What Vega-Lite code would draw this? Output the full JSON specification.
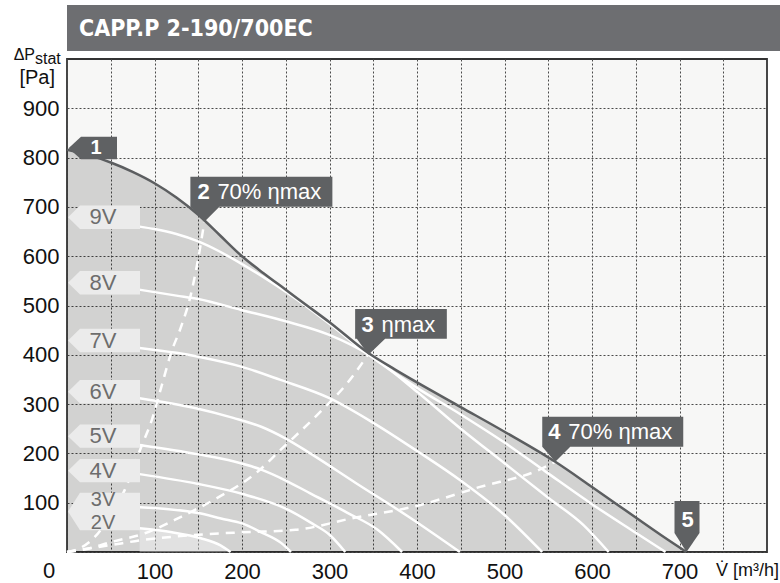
{
  "$schema": "https://vega.github.io/schema/vega-lite/v6.json",
  "padding": {"left": 12, "top": 5, "right": 0, "bottom": 0},
  "background": "white",
  "bounds": "flush",
  "spacing": 8,
  "config": {"font": "Liberation Sans"},
  "datasets": {
    "max": [
      {"x": 0, "y": 816}, {"x": 25, "y": 805}, {"x": 50, "y": 790}, {"x": 75, "y": 771},
      {"x": 100, "y": 748}, {"x": 125, "y": 719}, {"x": 150, "y": 684}, {"x": 175, "y": 642},
      {"x": 200, "y": 600}, {"x": 225, "y": 565}, {"x": 250, "y": 532}, {"x": 275, "y": 499},
      {"x": 300, "y": 466}, {"x": 344, "y": 404}, {"x": 375, "y": 370}, {"x": 400, "y": 344},
      {"x": 450, "y": 294}, {"x": 500, "y": 244}, {"x": 558, "y": 183}, {"x": 600, "y": 132},
      {"x": 650, "y": 70}, {"x": 680, "y": 33}, {"x": 708, "y": 0}
    ],
    "volt": [
      {"v": "9V", "x": 83, "y": 660}, {"v": "9V", "x": 100, "y": 655}, {"v": "9V", "x": 125, "y": 645},
      {"v": "9V", "x": 150, "y": 630}, {"v": "9V", "x": 175, "y": 609}, {"v": "9V", "x": 200, "y": 584},
      {"v": "9V", "x": 225, "y": 557}, {"v": "9V", "x": 255, "y": 522}, {"v": "9V", "x": 300, "y": 463},
      {"v": "9V", "x": 344, "y": 401}, {"v": "9V", "x": 400, "y": 333}, {"v": "9V", "x": 450, "y": 279},
      {"v": "9V", "x": 500, "y": 222}, {"v": "9V", "x": 547, "y": 163}, {"v": "9V", "x": 600, "y": 97},
      {"v": "9V", "x": 650, "y": 39}, {"v": "9V", "x": 684, "y": 0},
      {"v": "8V", "x": 83, "y": 532}, {"v": "8V", "x": 125, "y": 520}, {"v": "8V", "x": 150, "y": 513},
      {"v": "8V", "x": 199, "y": 491}, {"v": "8V", "x": 250, "y": 468}, {"v": "8V", "x": 299, "y": 441},
      {"v": "8V", "x": 347, "y": 398}, {"v": "8V", "x": 400, "y": 325}, {"v": "8V", "x": 450, "y": 250},
      {"v": "8V", "x": 500, "y": 180}, {"v": "8V", "x": 550, "y": 110}, {"v": "8V", "x": 590, "y": 55},
      {"v": "8V", "x": 619, "y": 0},
      {"v": "7V", "x": 83, "y": 414}, {"v": "7V", "x": 125, "y": 404}, {"v": "7V", "x": 150, "y": 396},
      {"v": "7V", "x": 199, "y": 376}, {"v": "7V", "x": 244, "y": 349}, {"v": "7V", "x": 300, "y": 312},
      {"v": "7V", "x": 350, "y": 262}, {"v": "7V", "x": 400, "y": 205}, {"v": "7V", "x": 449, "y": 146},
      {"v": "7V", "x": 500, "y": 75}, {"v": "7V", "x": 543, "y": 0},
      {"v": "6V", "x": 83, "y": 312}, {"v": "6V", "x": 146, "y": 292}, {"v": "6V", "x": 190, "y": 272},
      {"v": "6V", "x": 222, "y": 254}, {"v": "6V", "x": 250, "y": 230}, {"v": "6V", "x": 278, "y": 200},
      {"v": "6V", "x": 330, "y": 140}, {"v": "6V", "x": 390, "y": 72}, {"v": "6V", "x": 449, "y": 0},
      {"v": "5V", "x": 83, "y": 217}, {"v": "5V", "x": 150, "y": 198}, {"v": "5V", "x": 190, "y": 184},
      {"v": "5V", "x": 222, "y": 167}, {"v": "5V", "x": 250, "y": 145}, {"v": "5V", "x": 278, "y": 119},
      {"v": "5V", "x": 320, "y": 80}, {"v": "5V", "x": 355, "y": 45}, {"v": "5V", "x": 383, "y": 0},
      {"v": "4V", "x": 83, "y": 158}, {"v": "4V", "x": 150, "y": 138}, {"v": "4V", "x": 200, "y": 118},
      {"v": "4V", "x": 250, "y": 88}, {"v": "4V", "x": 280, "y": 58}, {"v": "4V", "x": 300, "y": 35},
      {"v": "4V", "x": 318, "y": 0},
      {"v": "3V", "x": 83, "y": 91}, {"v": "3V", "x": 150, "y": 79}, {"v": "3V", "x": 176, "y": 68},
      {"v": "3V", "x": 200, "y": 58}, {"v": "3V", "x": 222, "y": 40}, {"v": "3V", "x": 245, "y": 18},
      {"v": "3V", "x": 256, "y": 0},
      {"v": "2V", "x": 83, "y": 48}, {"v": "2V", "x": 120, "y": 40}, {"v": "2V", "x": 153, "y": 28},
      {"v": "2V", "x": 175, "y": 14}, {"v": "2V", "x": 187, "y": 0}
    ],
    "eff": [
      {"e": "left70", "x": 0, "y": 0}, {"e": "left70", "x": 15, "y": 8}, {"e": "left70", "x": 32, "y": 31},
      {"e": "left70", "x": 50, "y": 75}, {"e": "left70", "x": 66, "y": 126}, {"e": "left70", "x": 85, "y": 214},
      {"e": "left70", "x": 97, "y": 268}, {"e": "left70", "x": 108, "y": 336}, {"e": "left70", "x": 119, "y": 404},
      {"e": "left70", "x": 131, "y": 460}, {"e": "left70", "x": 141, "y": 518}, {"e": "left70", "x": 149, "y": 586},
      {"e": "left70", "x": 157, "y": 670},
      {"e": "etamax", "x": 0, "y": 0}, {"e": "etamax", "x": 17, "y": 4}, {"e": "etamax", "x": 50, "y": 20},
      {"e": "etamax", "x": 89, "y": 38}, {"e": "etamax", "x": 131, "y": 72}, {"e": "etamax", "x": 168, "y": 106},
      {"e": "etamax", "x": 218, "y": 163}, {"e": "etamax", "x": 244, "y": 207}, {"e": "etamax", "x": 290, "y": 285},
      {"e": "etamax", "x": 320, "y": 342}, {"e": "etamax", "x": 344, "y": 400},
      {"e": "right70", "x": 0, "y": 0}, {"e": "right70", "x": 13, "y": 4}, {"e": "right70", "x": 50, "y": 14},
      {"e": "right70", "x": 85, "y": 24}, {"e": "right70", "x": 150, "y": 35}, {"e": "right70", "x": 200, "y": 40},
      {"e": "right70", "x": 261, "y": 45}, {"e": "right70", "x": 330, "y": 70}, {"e": "right70", "x": 396, "y": 92},
      {"e": "right70", "x": 472, "y": 132}, {"e": "right70", "x": 540, "y": 167}, {"e": "right70", "x": 558, "y": 183}
    ],
    "labels": [
      {"t": "9V", "y": 679}, {"t": "8V", "y": 546}, {"t": "7V", "y": 429},
      {"t": "6V", "y": 325}, {"t": "5V", "y": 235}, {"t": "4V", "y": 165}
    ],
    "labels2": [{"t": "3V", "y": 105}, {"t": "2V", "y": 58}],
    "callouts": [
      {"n": "1", "rest": "", "x": 0, "y": 816},
      {"n": "2", "rest": "70% ηmax", "x": 157, "y": 670},
      {"n": "3", "rest": "ηmax", "x": 344.5, "y": 400},
      {"n": "4", "rest": "70% ηmax", "x": 558, "y": 183},
      {"n": "5", "rest": "", "x": 708, "y": 0}
    ]
  },
  "vconcat": [
    {
      "width": 715,
      "height": 46,
      "view": {"fill": "#6d6e71", "stroke": null},
      "data": {"values": [{"title": "CAPP.P 2-190/700EC"}]},
      "mark": {"type": "text", "align": "left", "baseline": "middle", "font": "Liberation Sans Narrow, DejaVu Sans Condensed, Liberation Sans", "fontWeight": "bold", "fontSize": 23, "color": "white", "dx": 12, "dy": 1},
      "encoding": {
        "x": {"datum": 0, "type": "quantitative", "scale": {"domain": [0, 1]}, "axis": null},
        "y": {"datum": 0.5, "type": "quantitative", "scale": {"domain": [0, 1]}, "axis": null},
        "text": {"field": "title"}
      }
    },
    {
      "width": 700,
      "height": 493,
      "view": {"fill": "#f7f7f6", "stroke": "#333333", "strokeWidth": 1.8},
      "layer": [
        {"data": {"name": "max"}, "mark": {"type": "area", "interpolate": "monotone", "fill": "#000", "fillOpacity": 0.15},
         "encoding": {
          "x": {
            "field": "x", "type": "quantitative", "title": null,
            "scale": {"domain": [0, 800], "nice": false, "zero": false},
            "axis": {
              "values": [0, 50, 100, 150, 200, 250, 300, 350, 400, 450, 500, 550, 600, 650, 700, 750],
              "labelExpr": "(datum.value >= 100 && datum.value <= 700 && datum.value % 100 == 0) ? datum.label : ''",
              "labelPadding": 9, "labelFontSize": 22, "labelFont": "Liberation Sans", "labelColor": "#111",
              "ticks": false, "domain": false, "grid": true, "gridColor": "#4a4a4a", "gridDash": [2, 2],
              "title": null, "labelFlush": false, "labelOverlap": false, "labelBound": false
            }
          },
          "y": {
            "field": "y", "type": "quantitative", "title": null,
            "scale": {"domain": [0, 1000], "nice": false, "zero": false},
            "axis": {
              "values": [0, 50, 100, 150, 200, 250, 300, 350, 400, 450, 500, 550, 600, 650, 700, 750, 800, 850, 900, 950],
              "labelExpr": "(datum.value >= 100 && datum.value <= 900 && datum.value % 100 == 0) ? datum.label : ''",
              "labelPadding": 8, "labelFontSize": 22, "labelFont": "Liberation Sans", "labelColor": "#111",
              "ticks": false, "domain": false, "grid": true, "gridColor": "#4a4a4a", "gridDash": [2, 2],
              "title": null, "labelFlush": false, "labelOverlap": false, "labelBound": false
            }
          }
        }},
        {"data": {"name": "volt"}, "transform": [{"filter": "datum.v == '2V'"}], "mark": {"type": "area", "interpolate": "monotone", "fill": "#fff", "fillOpacity": 0.35},
         "encoding": {"x": {"field": "x", "type": "quantitative", "title": null}, "y": {"field": "y", "type": "quantitative", "title": null}}},
        {"data": {"name": "volt"}, "mark": {"type": "line", "interpolate": "monotone", "color": "white", "strokeWidth": 2.5},
         "encoding": {"x": {"field": "x", "type": "quantitative", "title": null}, "y": {"field": "y", "type": "quantitative", "title": null}, "detail": {"field": "v"}}},
        {"data": {"name": "eff"}, "mark": {"type": "line", "interpolate": "monotone", "color": "white", "strokeWidth": 2.5, "strokeDash": [9, 7]},
         "encoding": {"x": {"field": "x", "type": "quantitative", "title": null}, "y": {"field": "y", "type": "quantitative", "title": null}, "detail": {"field": "e"}}},
        {"data": {"name": "max"}, "mark": {"type": "line", "interpolate": "monotone", "color": "#5c5e60", "strokeWidth": 2.5},
         "encoding": {"x": {"field": "x", "type": "quantitative", "title": null}, "y": {"field": "y", "type": "quantitative", "title": null}}},
        {"data": {"name": "labels"}, "mark": {"type": "point", "shape": "M1,0 L13,-11.7 L73,-11.7 L73,11.7 L13,11.7 Z", "size": 4, "filled": true, "fill": "#ebebeb", "opacity": 1, "strokeWidth": 0},
         "encoding": {"x": {"datum": 0, "type": "quantitative", "title": null}, "y": {"field": "y", "type": "quantitative", "title": null}}},
        {"data": {"values": [{}]}, "mark": {"type": "point", "shape": "M1,0 L13,-18.8 L73,-18.8 L73,18.8 L13,18.8 Z", "size": 4, "filled": true, "fill": "#ebebeb", "opacity": 1, "strokeWidth": 0},
         "encoding": {"x": {"datum": 0, "type": "quantitative", "title": null}, "y": {"datum": 82, "type": "quantitative", "title": null}}},
        {"data": {"name": "labels"}, "mark": {"type": "text", "align": "center", "baseline": "middle", "dx": 36, "fontSize": 22, "color": "#6d6d6d"},
         "encoding": {"x": {"datum": 0, "type": "quantitative", "title": null}, "y": {"field": "y", "type": "quantitative", "title": null}, "text": {"field": "t"}}},
        {"data": {"name": "labels2"}, "mark": {"type": "text", "align": "center", "baseline": "middle", "dx": 36, "fontSize": 20, "color": "#6d6d6d"},
         "encoding": {"x": {"datum": 0, "type": "quantitative", "title": null}, "y": {"field": "y", "type": "quantitative", "title": null}, "text": {"field": "t"}}},
        {"data": {"name": "callouts"}, "mark": {"type": "point", "size": 4, "filled": true, "fill": "#5f6163", "opacity": 1, "strokeWidth": 0},
         "encoding": {"x": {"field": "x", "type": "quantitative", "title": null}, "y": {"field": "y", "type": "quantitative", "title": null},
          "shape": {"field": "n", "type": "nominal", "legend": null, "scale": {"domain": ["1", "2", "3", "4", "5"], "range": [
           "M1.5,-1.5 L14,-13 L50,-13 L50,9.5 L14,9.5 Z",
           "M0,0 L15,-15 L128,-15 L128,-45 L-14,-45 L-14,-15 Z",
           "M0,0 L16.7,-16 L78.4,-16 L78.4,-45.7 L-13.3,-45.7 L-13.3,-16 L-11.6,-16 Z",
           "M0,0 L15,-15 L128,-15 L128,-45 L-13,-45 L-13,-15 Z",
           "M0,0 L-12,-19 L-12,-51 L13,-51 L13,-19 Z"
         ]}}}},
        {"data": {"name": "callouts"}, "transform": [{"filter": "datum.n == '2' || datum.n == '3' || datum.n == '4'"}], "mark": {"type": "text", "align": "left", "baseline": "middle", "dx": -7, "dy": -30, "fontSize": 22, "fontWeight": "bold", "color": "white"},
         "encoding": {"x": {"field": "x", "type": "quantitative", "title": null}, "y": {"field": "y", "type": "quantitative", "title": null}, "text": {"field": "n"}}},
        {"data": {"name": "callouts"}, "transform": [{"filter": "datum.n == '2' || datum.n == '3' || datum.n == '4'"}], "mark": {"type": "text", "align": "left", "baseline": "middle", "dx": 13, "dy": -30, "fontSize": 22, "color": "white"},
         "encoding": {"x": {"field": "x", "type": "quantitative", "title": null}, "y": {"field": "y", "type": "quantitative", "title": null}, "text": {"field": "rest"}}},
        {"data": {"name": "callouts"}, "transform": [{"filter": "datum.n == '1'"}], "mark": {"type": "text", "align": "center", "baseline": "middle", "dx": 29, "dy": -2, "fontSize": 20, "fontWeight": "bold", "color": "white"},
         "encoding": {"x": {"field": "x", "type": "quantitative", "title": null}, "y": {"field": "y", "type": "quantitative", "title": null}, "text": {"field": "n"}}},
        {"data": {"name": "callouts"}, "transform": [{"filter": "datum.n == '5'"}], "mark": {"type": "text", "align": "center", "baseline": "middle", "dx": 1, "dy": -32, "fontSize": 22, "fontWeight": "bold", "color": "white"},
         "encoding": {"x": {"field": "x", "type": "quantitative", "title": null}, "y": {"field": "y", "type": "quantitative", "title": null}, "text": {"field": "n"}}},
        {"data": {"values": [{}]}, "mark": {"type": "text", "align": "right", "baseline": "alphabetic", "dx": -32, "dy": 1, "fontSize": 16, "color": "#111"},
         "encoding": {"x": {"datum": 0, "type": "quantitative", "title": null}, "y": {"datum": 1000, "type": "quantitative", "title": null}, "text": {"value": "ΔP"}}},
        {"data": {"values": [{}]}, "mark": {"type": "text", "align": "left", "baseline": "alphabetic", "dx": -32, "dy": 5, "fontSize": 16, "color": "#111"},
         "encoding": {"x": {"datum": 0, "type": "quantitative", "title": null}, "y": {"datum": 1000, "type": "quantitative", "title": null}, "text": {"value": "stat"}}},
        {"data": {"values": [{}]}, "mark": {"type": "text", "align": "right", "baseline": "alphabetic", "dx": -12, "dy": 25, "fontSize": 20, "color": "#111"},
         "encoding": {"x": {"datum": 0, "type": "quantitative", "title": null}, "y": {"datum": 1000, "type": "quantitative", "title": null}, "text": {"value": "[Pa]"}}},
        {"data": {"values": [{}]}, "mark": {"type": "text", "align": "center", "baseline": "top", "dx": -18, "dy": 9, "fontSize": 22, "color": "#111"},
         "encoding": {"x": {"datum": 0, "type": "quantitative", "title": null}, "y": {"datum": 0, "type": "quantitative", "title": null}, "text": {"value": "0"}}},
        {"data": {"values": [{}]}, "mark": {"type": "text", "align": "right", "baseline": "top", "dx": 12, "dy": 10, "fontSize": 18, "color": "#111"},
         "encoding": {"x": {"datum": 800, "type": "quantitative", "title": null}, "y": {"datum": 0, "type": "quantitative", "title": null}, "text": {"value": "V̇ [m³/h]"}}}
      ]
    }
  ]
}
